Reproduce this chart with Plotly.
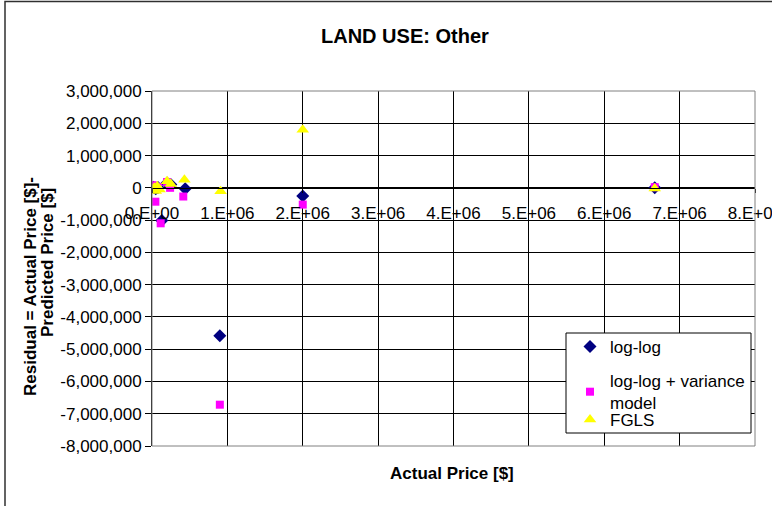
import plotly.graph_objects as go

# ---- data ----
loglog_x = [20000, 50000, 80000, 130000, 200000, 250000, 440000, 900000, 2000000, 6670000]
loglog_y = [20000, -30000, 10000, -1010000, 150000, 100000, -30000, -4580000, -250000, 0]

varmod_x = [10000, 30000, 45000, 80000, 115000, 200000, 240000, 415000, 900000, 2000000, 6670000]
varmod_y = [80000, 50000, -430000, 20000, -1100000, 180000, 0, -270000, -6720000, -520000, 20000]

fgls_x = [10000, 30000, 50000, 70000, 100000, 200000, 250000, 430000, 910000, 2000000, 6670000]
fgls_y = [-50000, 0, -100000, 50000, -50000, 200000, 120000, 250000, -110000, 1800000, -20000]

x_tickvals = [0, 1e6, 2e6, 3e6, 4e6, 5e6, 6e6, 7e6, 8e6]
x_ticktext = ["0.E+00", "1.E+06", "2.E+06", "3.E+06", "4.E+06", "5.E+06", "6.E+06", "7.E+06", "8.E+06"]
y_tickvals = [3e6, 2e6, 1e6, 0, -1e6, -2e6, -3e6, -4e6, -5e6, -6e6, -7e6, -8e6]
y_ticktext = ["3,000,000", "2,000,000", "1,000,000", "0", "-1,000,000", "-2,000,000", "-3,000,000",
              "-4,000,000", "-5,000,000", "-6,000,000", "-7,000,000", "-8,000,000"]

FONT = "Liberation Sans, Arial, sans-serif"

fig = go.Figure()
fig.add_trace(go.Scatter(x=loglog_x, y=loglog_y, mode="markers", name="log-log",
                         legendgroup="a", legend="legend",
                         marker=dict(symbol="diamond", color="#000080", size=10)))
fig.add_trace(go.Scatter(x=varmod_x, y=varmod_y, mode="markers", name="log-log + variance<br>model",
                         legendgroup="b", legend="legend",
                         marker=dict(symbol="square", color="#FF00FF", size=8)))
fig.add_trace(go.Scatter(x=fgls_x, y=fgls_y, mode="markers", name="FGLS",
                         legendgroup="c", legend="legend2",
                         marker=dict(symbol="triangle-up", color="#FFFF00", size=11)))

W, H = 772, 506
L, R, T, B = 152, 17, 91, 60
ph = H - T - B
pw = W - L - R

def px(x):
    return (x - L) / pw

def py(y):
    return (H - B - y) / ph

zero_pos = py(188)

leg_common = dict(xanchor="left", yanchor="top", borderwidth=0,
                  bgcolor="rgba(0,0,0,0)",
                  font=dict(family=FONT, size=17, color="black"),
                  traceorder="grouped")

fig.update_layout(
    width=W, height=H,
    margin=dict(l=L, r=R, t=T, b=B, autoexpand=False),
    paper_bgcolor="white", plot_bgcolor="white",
    font=dict(family=FONT, size=17, color="black"),
    showlegend=True,
    legend=dict(x=px(570), y=py(329), tracegroupgap=9, **leg_common),
    legend2=dict(x=px(570), y=py(402), tracegroupgap=0, **leg_common),
    xaxis=dict(range=[0, 8e6], tickvals=x_tickvals, ticktext=x_ticktext,
               showgrid=True, gridcolor="black", gridwidth=1,
               zeroline=False, showline=True, linecolor="black", linewidth=1,
               anchor="free", position=zero_pos,
               ticks="outside", ticklen=4, tickcolor="black",
               ticklabelstandoff=6, ticklabeloverflow="allow",
               tickfont=dict(family=FONT, size=17)),
    yaxis=dict(range=[-8e6, 3e6], tickvals=y_tickvals, ticktext=y_ticktext,
               showgrid=True, gridcolor="black", gridwidth=1,
               zeroline=False, showline=True, linecolor="black", linewidth=1,
               ticks="outside", ticklen=6, tickcolor="black",
               ticklabeloverflow="allow",
               tickfont=dict(family=FONT, size=17)),
    shapes=[
        dict(type="rect", xref="paper", yref="paper", x0=px(5), x1=px(790), y0=py(520), y1=py(1.5),
             line=dict(color="#303030", width=1.5), fillcolor="rgba(0,0,0,0)", layer="below"),
        dict(type="rect", xref="paper", yref="paper", x0=0, x1=1, y0=0, y1=1,
             line=dict(color="#808080", width=1), fillcolor="rgba(0,0,0,0)"),
        dict(type="rect", xref="paper", yref="paper", x0=px(566), x1=px(751), y0=py(433), y1=py(333),
             line=dict(color="black", width=1), fillcolor="white", layer="above"),
    ],
    annotations=[
        dict(text="<b>LAND USE: Other</b>", xref="paper", yref="paper", x=px(405), y=py(36),
             showarrow=False, font=dict(family=FONT, size=20), xanchor="center", yanchor="middle"),
        dict(text="<b>Actual Price [$]</b>", xref="paper", yref="paper", x=px(452), y=py(474),
             showarrow=False, font=dict(family=FONT, size=17), xanchor="center", yanchor="middle"),
        dict(text="<b>Residual = Actual Price [$]-</b>", xref="paper", yref="paper",
             x=px(30), y=py(287), textangle=-90,
             showarrow=False, font=dict(family=FONT, size=17), xanchor="center", yanchor="middle"),
        dict(text="<b>Predicted Price [$]</b>", xref="paper", yref="paper",
             x=px(47), y=py(262), textangle=-90,
             showarrow=False, font=dict(family=FONT, size=17), xanchor="center", yanchor="middle"),
    ],
)

fig.write_html("out.html",
               config={"displayModeBar": False},
               post_script="document.body.style.margin='0';document.body.style.overflow='hidden';")
